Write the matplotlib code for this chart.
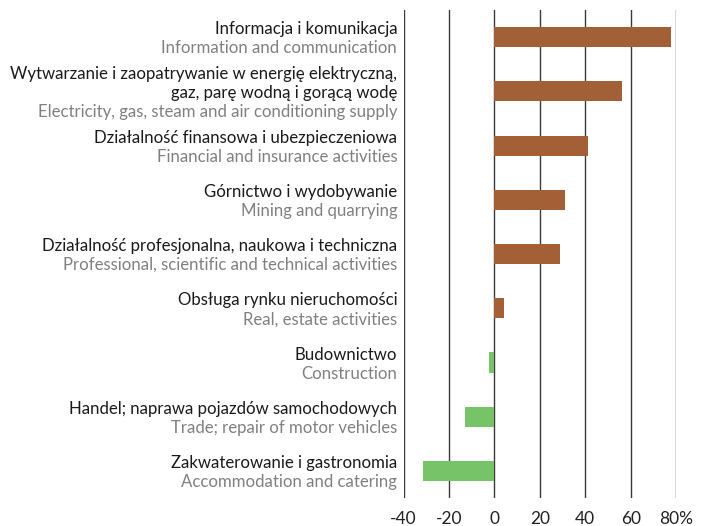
import matplotlib
matplotlib.use("Agg")
import matplotlib.pyplot as plt

plt.rcParams['font.family'] = ['Lato', 'DejaVu Sans']

labels_pl = [
    "Informacja i komunikacja",
    "Wytwarzanie i zaopatrywanie w energię elektryczną,\ngaz, parę wodną i gorącą wodę",
    "Działalność finansowa i ubezpieczeniowa",
    "Górnictwo i wydobywanie",
    "Działalność profesjonalna, naukowa i techniczna",
    "Obsługa rynku nieruchomości",
    "Budownictwo",
    "Handel; naprawa pojazdów samochodowych",
    "Zakwaterowanie i gastronomia",
]
labels_en = [
    "Information and communication",
    "Electricity, gas, steam and air conditioning supply",
    "Financial and insurance activities",
    "Mining and quarrying",
    "Professional, scientific and technical activities",
    "Real, estate activities",
    "Construction",
    "Trade; repair of motor vehicles",
    "Accommodation and catering",
]
values = [78, 56, 41, 31, 29, 4, -2.5, -13, -31.5]
xticks = [-40, -20, 0, 20, 40, 60, 80]
xticklabels = ["-40", "-20", "0", "20", "40", "60", "80%"]

BROWN = "#A36036"
GREEN = "#76C368"

fig = plt.figure(figsize=(7.02, 5.26), dpi=100)
ax = fig.add_axes([0.575, 0.053, 0.388, 0.928])

ypos = list(range(len(values)))
colors = [BROWN if v >= 0 else GREEN for v in values]
ax.barh(ypos, values, height=0.37, color=colors, zorder=3)

ax.set_xlim(-40, 80)
ax.set_ylim(len(values) - 0.5, -0.5)
ax.set_xticks(xticks)
ax.set_xticklabels(xticklabels, fontsize=12.5, color="#222222")
ax.tick_params(axis='x', length=0, pad=9)
ax.set_yticks([])
for s in ax.spines.values():
    s.set_visible(False)
for t in xticks:
    ax.axvline(t, color="#3a3a3a", linewidth=1.0, zorder=2)

line_px = 19.0
for i, (pl, en) in enumerate(zip(labels_pl, labels_en)):
    lines = pl.split("\n")
    allines = [(l, "#1a1a1a") for l in lines] + [(en, "#808080")]
    n = len(allines)
    for j, (txt, col) in enumerate(allines):
        off_px = (j - (n - 1) / 2) * line_px + 1.5
        ax.annotate(txt, xy=(0, i), xycoords=('axes fraction', 'data'),
                    xytext=(-6.5 * 72 / 100, -off_px * 72 / 100),
                    textcoords='offset points', ha='right', va='center',
                    fontsize=12.1, color=col)

fig.savefig("out.png", dpi=100)
